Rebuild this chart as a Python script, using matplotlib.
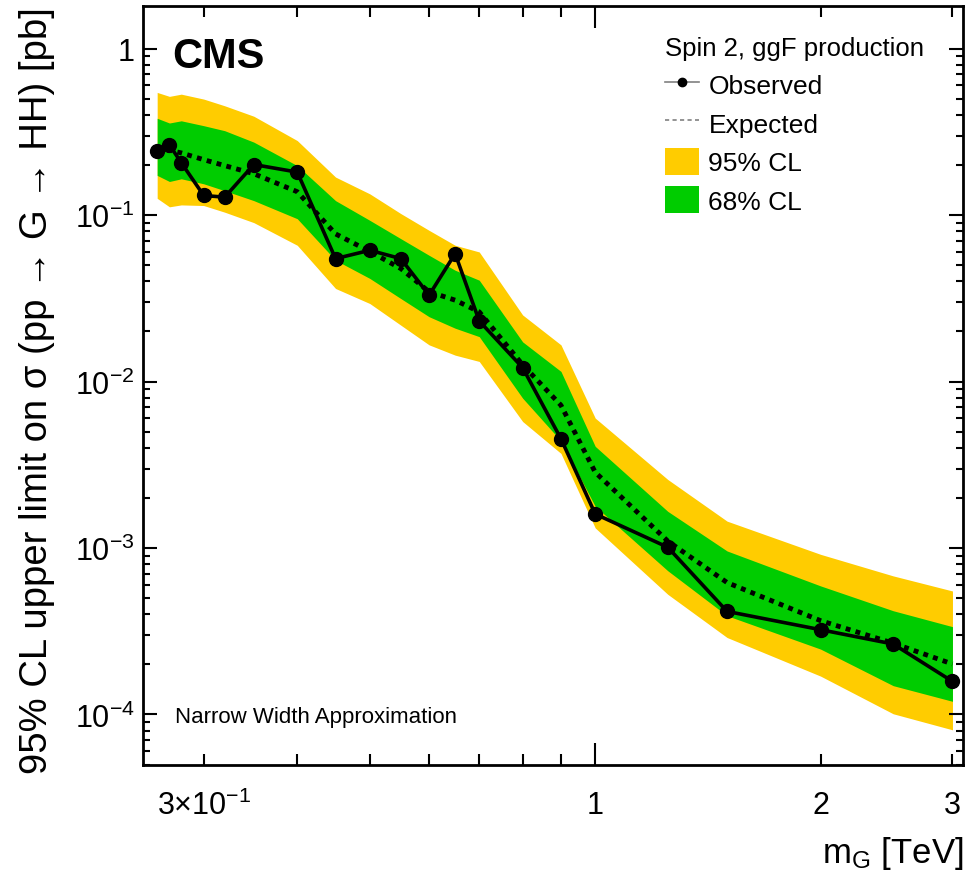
import matplotlib
matplotlib.use('Agg')
import matplotlib.pyplot as plt
from matplotlib.lines import Line2D
from matplotlib.patches import Patch
from matplotlib.ticker import FixedLocator, FixedFormatter, NullFormatter

plt.rcParams['font.family'] = ['Liberation Sans', 'DejaVu Sans']
plt.rcParams['mathtext.fontset'] = 'custom'
plt.rcParams['mathtext.rm'] = 'Liberation Sans'
plt.rcParams['mathtext.it'] = 'Liberation Sans:italic'

# resonance mass [TeV]
mass = [0.26, 0.27, 0.28, 0.30, 0.32, 0.35, 0.40, 0.45, 0.50, 0.55, 0.60,
        0.65, 0.70, 0.80, 0.90, 1.0, 1.25, 1.5, 2.0, 2.5, 3.0]
observed = [0.244, 0.264, 0.206, 0.131, 0.128, 0.201, 0.181, 0.0547, 0.0614, 0.0547, 0.033,
            0.0586, 0.0231, 0.0121, 0.00453, 0.0016, 0.00101, 0.000416, 0.000323, 0.000265, 0.000158]
expected = [0.25, 0.245, 0.236, 0.215, 0.198, 0.177, 0.138, 0.077, 0.0604, 0.0477, 0.0346,
            0.0308, 0.0262, 0.0126, 0.0072, 0.00285, 0.0011, 0.00062, 0.000366, 0.000268, 0.000201]
band95_hi = [0.545, 0.516, 0.532, 0.497, 0.453, 0.392, 0.280, 0.169, 0.134, 0.102, 0.0809,
             0.0658, 0.060, 0.0251, 0.0166, 0.00603, 0.00258, 0.00145, 0.000916, 0.00068, 0.000552]
band68_hi = [0.381, 0.357, 0.368, 0.344, 0.321, 0.274, 0.198, 0.122, 0.0929, 0.0721, 0.0573,
             0.0466, 0.0406, 0.0173, 0.0115, 0.00408, 0.00166, 0.00096, 0.000592, 0.00042, 0.000337]
band68_lo = [0.173, 0.159, 0.165, 0.154, 0.140, 0.122, 0.095, 0.0535, 0.0416, 0.0315, 0.0245,
             0.0209, 0.0186, 0.00794, 0.0044, 0.00178, 0.00073, 0.000392, 0.000247, 0.000149, 0.00012]
band95_lo = [0.126, 0.112, 0.115, 0.114, 0.104, 0.090, 0.0658, 0.0362, 0.0294, 0.0218, 0.0166,
             0.0144, 0.0132, 0.00575, 0.0037, 0.00132, 0.000527, 0.00029, 0.00017, 0.000101, 0.0000809]

yticks = [1e-4, 1e-3, 1e-2, 1e-1, 1]
ytick_labels = ['10$^{-4}$', '10$^{-3}$', '10$^{-2}$', '10$^{-1}$', '1']
xminor = [0.3, 0.4, 0.5, 0.6, 0.7, 0.8, 0.9, 2, 3]
xminor_labels = ['3×10$^{-1}$', '', '', '', '', '', '', '2', '3']

yellow = '#ffcc00'
green = '#00cc00'

fig = plt.figure(figsize=(9.67, 8.78), dpi=100)
ax = fig.add_axes([0.148, 0.128, 0.848, 0.864])

ax.fill_between(mass, band95_lo, band95_hi, color=yellow, lw=0)
ax.fill_between(mass, band68_lo, band68_hi, color=green, lw=0)
ax.plot(mass, expected, color='black', lw=3.5, linestyle=(0, (1, 1.1)))
ax.plot(mass, observed, color='black', lw=2.6, marker='o', markersize=10)

ax.set_xscale('log')
ax.set_yscale('log')
ax.set_xlim(0.249, 3.1)
ax.set_ylim(5e-5, 1.8)

ax.xaxis.set_major_locator(FixedLocator([1]))
ax.xaxis.set_major_formatter(FixedFormatter(['1']))
ax.xaxis.set_minor_locator(FixedLocator(xminor))
ax.xaxis.set_minor_formatter(FixedFormatter(xminor_labels))
ax.yaxis.set_major_locator(FixedLocator(yticks))
ax.yaxis.set_major_formatter(FixedFormatter(ytick_labels))
ax.yaxis.set_minor_formatter(NullFormatter())

ax.tick_params(which='both', direction='in', top=True, right=True, width=1.5, labelsize=22)
ax.tick_params(axis='x', which='major', length=16, pad=18)
ax.tick_params(axis='x', which='minor', length=8, pad=18)
ax.tick_params(axis='y', which='major', length=10, pad=6)
ax.tick_params(axis='y', which='minor', length=5)
for s in ax.spines.values():
    s.set_linewidth(2)

ax.set_ylabel('95% CL upper limit on σ (pp → G → HH) [pb]', fontsize=27.5, loc='top')
ax.yaxis.set_label_coords(-0.108, 1.0)
ax.set_xlabel('m$_{\\mathrm{G}}$ [TeV]', fontsize=25, loc='right')
ax.xaxis.set_label_coords(1.0, -0.092)

ax.text(0.035, 0.96, 'CMS', transform=ax.transAxes, fontsize=30, fontweight='bold',
        va='top', ha='left')
ax.text(0.039, 0.063, 'Narrow Width Approximation', transform=ax.transAxes,
        fontsize=16, va='center', ha='left')

handles = [
    Line2D([], [], color='gray', lw=1.2, marker='o', markersize=6,
           markerfacecolor='black', markeredgecolor='black'),
    Line2D([], [], color='gray', lw=1.2, linestyle=(0, (2.5, 2))),
    Patch(facecolor=yellow, edgecolor='none'),
    Patch(facecolor=green, edgecolor='none'),
]
labels = ['Observed', 'Expected', '95% CL', '68% CL']
leg = ax.legend(handles, labels, title='Spin 2, ggF production', loc='upper right',
                bbox_to_anchor=(0.965, 0.975), frameon=False, fontsize=19,
                title_fontsize=18.5, handlelength=1.3, handleheight=1.2,
                handletextpad=0.35, labelspacing=0.42, borderaxespad=0)
leg._legend_box.align = 'left'

fig.savefig('out.png', dpi=100)
